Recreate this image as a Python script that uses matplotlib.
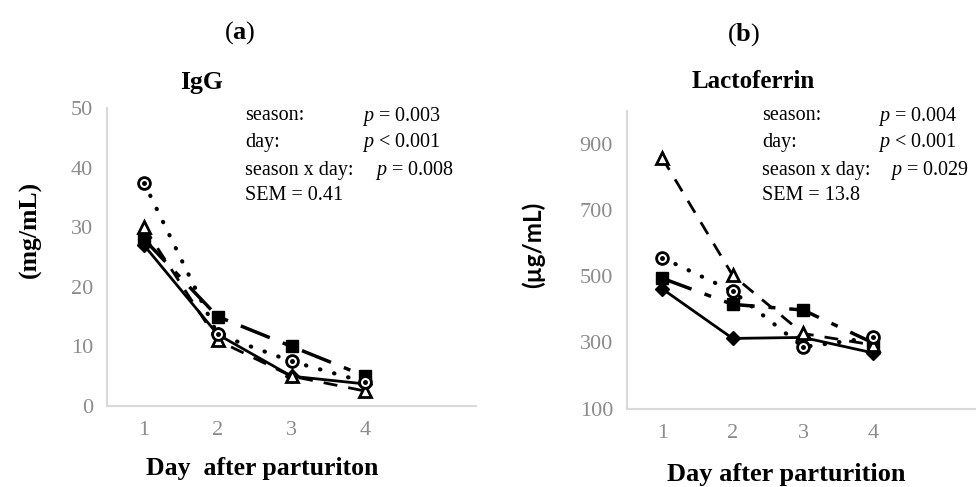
import matplotlib
matplotlib.use("Agg")
import matplotlib.pyplot as plt

days = [1, 2, 3, 4]

# IgG (mg/mL)
igg_diamond = [27.0, 12.0, 5.0, 3.7]
igg_square = [28.0, 15.0, 10.0, 5.0]
igg_triangle = [30.0, 11.0, 5.0, 2.5]
igg_circle = [37.5, 12.0, 7.5, 4.0]

# Lactoferrin (ug/mL)
lf_diamond = [462, 312, 315, 268]
lf_square = [494, 415, 398, 298]
lf_triangle = [858, 503, 327, 292]
lf_circle = [556, 455, 286, 315]

igg_stats = [("season:", "$p$ = 0.003"), ("day:", "$p$ < 0.001"),
             ("season x day:", "$p$ = 0.008"), ("SEM = 0.41", "")]
lf_stats = [("season:", "$p$ = 0.004"), ("day:", "$p$ < 0.001"),
            ("season x day:", "$p$ = 0.029"), ("SEM = 13.8", "")]

plt.rcParams["font.family"] = "Liberation Serif"
plt.rcParams["mathtext.fontset"] = "custom"
plt.rcParams["mathtext.rm"] = "Liberation Serif"
plt.rcParams["mathtext.it"] = "Liberation Serif:italic"
plt.rcParams["mathtext.bf"] = "Liberation Serif:bold"

W, H = 976, 487
fig = plt.figure(figsize=(W / 100, H / 100), dpi=100)


def px(x, y):
    return x / W, 1 - y / H


def draw_series(ax, d, s, t, c):
    ax.plot(days, d, color="black", lw=2, marker="D", ms=7,
            mfc="black", mec="black")
    ax.plot(days, s, color="black", lw=2.5, dashes=(9, 4, 2, 4),
            marker="s", ms=9, mfc="black", mec="black")
    ax.plot(days, t, color="black", lw=2, dashes=(5, 4),
            marker="^", ms=9, mfc="white", mec="black", mew=2)
    ax.plot(days, c, color="black", lw=3, dashes=(0.1, 3.4),
            dash_capstyle="round", marker="o", ms=8.5, mfc="white",
            mec="black", mew=2)
    ax.plot(days, c, ls="none", marker="o", ms=2.5, color="black")


def style(ax, ylim, yticks):
    ax.set_xlim(0.5, 5.5)
    ax.set_ylim(*ylim)
    ax.set_xticks(days)
    ax.set_yticks(yticks)
    for side in ["top", "right"]:
        ax.spines[side].set_visible(False)
    for side in ["left", "bottom"]:
        ax.spines[side].set_color("#d9d9d9")
        ax.spines[side].set_linewidth(1.5)
    ax.tick_params(length=0, labelsize=16, labelcolor="#8c8c8c")
    ax.tick_params(axis="x", pad=11)
    ax.tick_params(axis="y", pad=10)


ax1 = fig.add_axes([107 / W, 1 - 406 / H, 369 / W, 298 / H])
draw_series(ax1, igg_diamond, igg_square, igg_triangle, igg_circle)
style(ax1, (0, 50), [0, 10, 20, 30, 40, 50])

ax2 = fig.add_axes([627 / W, 1 - 408.5 / H, 352 / W, 297.5 / H])
draw_series(ax2, lf_diamond, lf_square, lf_triangle, lf_circle)
style(ax2, (100, 1000), [100, 300, 500, 700, 900])

# stats text
rows = [116, 143, 170, 196]
for (lab, p), y, i in zip(igg_stats, rows, range(4)):
    fig.text(*px(245, y), lab, fontsize=14.5, va="center")
    if p:
        fig.text(*px(375 if i == 2 else 362, y), p, fontsize=14.5, va="center")
for (lab, p), y, i in zip(lf_stats, rows, range(4)):
    fig.text(*px(762, y), lab, fontsize=14.5, va="center")
    if p:
        fig.text(*px(890 if i == 2 else 878, y), p, fontsize=14.5, va="center")

# titles
fig.text(*px(240, 33), r"($\mathbf{a}$)", fontsize=19, ha="center", va="center")
fig.text(*px(744, 35), r"($\mathbf{b}$)", fontsize=19, ha="center", va="center")
fig.text(*px(202, 82), "IgG", fontsize=18.5, fontweight="bold",
         ha="center", va="center")
fig.text(*px(753, 82), "Lactoferrin", fontsize=18, fontweight="bold",
         ha="center", va="center")

# axis labels
fig.text(*px(30, 229), "(mg/mL)", fontsize=18.5, fontweight="bold",
         rotation=90, ha="center", va="center")
fig.text(*px(533, 245), "(µg/mL)", fontsize=17.5, fontweight="bold",
         family="Lato", rotation=90, ha="center", va="center")
fig.text(*px(262, 468), "Day  after parturiton", fontsize=18.5,
         fontweight="bold", ha="center", va="center")
fig.text(*px(786, 475), "Day after parturition", fontsize=19,
         fontweight="bold", ha="center", va="center")

fig.savefig("out.png", dpi=100)
